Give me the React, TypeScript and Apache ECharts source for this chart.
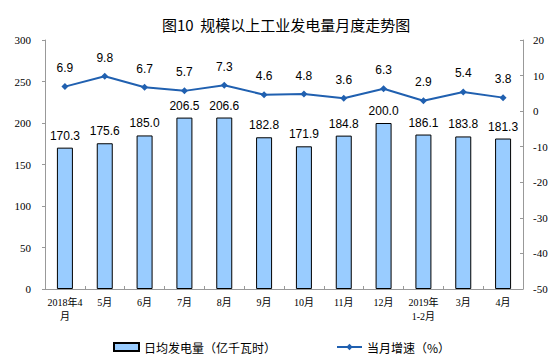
import React, { useEffect, useRef } from "react";
import * as echarts from "echarts";

const categories = ["2018年4\n月", "5月", "6月", "7月", "8月", "9月", "10月", "11月", "12月", "2019年\n1-2月", "3月", "4月"];
const dailyOutput = [170.3, 175.6, 185.0, 206.5, 206.6, 182.8, 171.9, 184.8, 200.0, 186.1, 183.8, 181.3];
const monthlyGrowth = [6.9, 9.8, 6.7, 5.7, 7.3, 4.6, 4.8, 3.6, 6.3, 2.9, 5.4, 3.8];

const serif = "'Liberation Serif', 'Noto Sans CJK SC', serif";
const sans = "'Liberation Sans', 'Noto Sans CJK SC', sans-serif";

export default function App() {
  const ref = useRef<HTMLDivElement>(null);
  useEffect(() => {
    if (!ref.current) return;
    const chart = echarts.init(ref.current, null, { renderer: "svg" });
    chart.setOption({
      animation: false,
      backgroundColor: "#fff",
      title: {
        text: "图10  规模以上工业发电量月度走势图",
        left: 157,
        top: 12,
        textStyle: { fontSize: 15, fontWeight: "normal", color: "#000", fontFamily: "'Noto Sans CJK SC', sans-serif" },
      },
      grid: { left: 45, right: 37, top: 40, bottom: 69 },
      legend: {
        left: 108,
        top: 336,
        itemGap: 60,
        itemWidth: 25,
        itemHeight: 8,
        textStyle: { fontSize: 12, color: "#000", fontFamily: "'Noto Sans CJK SC', sans-serif" },
        data: [
          { name: "日均发电量（亿千瓦时）", icon: "rect" },
          { name: "当月增速（%）" },
        ],
      },
      xAxis: {
        type: "category",
        data: categories,
        axisLine: { lineStyle: { color: "#999" } },
        axisTick: { show: true, inside: true, length: 3, lineStyle: { color: "#999" } },
        axisLabel: { color: "#000", fontSize: 10, fontFamily: serif, interval: 0, lineHeight: 14, margin: 6 },
      },
      yAxis: [
        {
          type: "value",
          min: 0,
          max: 300,
          interval: 50,
          splitLine: { show: false },
          axisLine: { show: true, lineStyle: { color: "#999" } },
          axisTick: { show: true, length: 3, lineStyle: { color: "#999" } },
          axisLabel: { color: "#000", fontSize: 11, fontFamily: serif, margin: 14 },
        },
        {
          type: "value",
          min: -50,
          max: 20,
          interval: 10,
          splitLine: { show: false },
          axisLine: { show: true, lineStyle: { color: "#999" } },
          axisTick: { show: true, inside: true, length: 3, lineStyle: { color: "#999" } },
          axisLabel: { color: "#000", fontSize: 11, fontFamily: serif, margin: 10 },
        },
      ],
      series: [
        {
          name: "日均发电量（亿千瓦时）",
          type: "bar",
          data: dailyOutput,
          barWidth: 16,
          itemStyle: { color: "#99CCFF", borderColor: "#000", borderWidth: 1 },
          label: {
            show: true,
            position: "top",
            distance: 6,
            color: "#000",
            fontSize: 12,
            fontFamily: sans,
            formatter: (p: any) => Number(p.value).toFixed(1),
          },
        },
        {
          name: "当月增速（%）",
          type: "line",
          yAxisIndex: 1,
          data: monthlyGrowth,
          symbol: "diamond",
          symbolSize: 7,
          lineStyle: { color: "#2060B0", width: 2 },
          itemStyle: { color: "#2060B0" },
          label: {
            show: true,
            position: "top",
            distance: 9,
            color: "#000",
            fontSize: 12,
            fontFamily: sans,
            formatter: (p: any) => Number(p.value).toFixed(1),
          },
        },
      ],
    });
    return () => chart.dispose();
  }, []);
  return <div ref={ref} style={{ width: 560, height: 358, marginLeft: -8, marginTop: -8 }} />;
}
